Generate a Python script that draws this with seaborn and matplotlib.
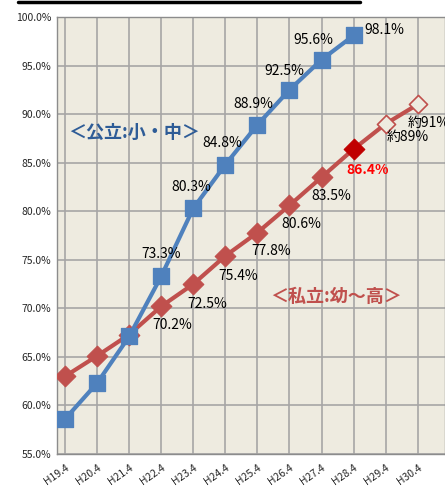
import pandas as pd
import numpy as np
import matplotlib.pyplot as plt
import seaborn as sns
from matplotlib.lines import Line2D
from matplotlib.ticker import FuncFormatter

# data
years = ["H19.4", "H20.4", "H21.4", "H22.4", "H23.4", "H24.4",
         "H25.4", "H26.4", "H27.4", "H28.4", "H29.4", "H30.4"]
public_rate = [58.6, 62.3, 67.1, 73.3, 80.3, 84.8, 88.9, 92.5, 95.6, 98.1]
private_rate = [63.0, 65.1, 67.3, 70.2, 72.5, 75.4, 77.8, 80.6, 83.5, 86.4, 89.0, 91.0]
public_labels = ["", "", "", "73.3%", "80.3%", "84.8%", "88.9%", "92.5%", "95.6%", "98.1%"]
private_labels = ["", "", "", "70.2%", "72.5%", "75.4%", "77.8%", "80.6%", "83.5%", "86.4%", "約89%", "約91%"]

sns.set_style("white")
plt.rcParams['font.family'] = ['Noto Sans CJK JP', 'DejaVu Sans']

BG = "#EEEBE0"
BLUE = "#4F81BD"
RED = "#C0504D"

pub = pd.DataFrame({"x": range(len(public_rate)), "rate": public_rate})
priv = pd.DataFrame({"x": range(len(private_rate)), "rate": private_rate})

fig = plt.figure(figsize=(4.45, 4.88), dpi=100)
ax = fig.add_axes([57 / 445, 1 - 454 / 488, 1 - 57 / 445, (454 - 17) / 488])
ax.set_facecolor(BG)

# private line (under the public one)
sns.lineplot(data=priv, x="x", y="rate", ax=ax, color=RED, linewidth=3.0, zorder=3)
sns.scatterplot(data=priv.iloc[:9], x="x", y="rate", ax=ax, marker="D", s=110,
                color=RED, edgecolor=RED, zorder=4)
sns.scatterplot(data=priv.iloc[9:10], x="x", y="rate", ax=ax, marker="D", s=110,
                color="#C00000", edgecolor="#C00000", zorder=4)
sns.scatterplot(data=priv.iloc[10:], x="x", y="rate", ax=ax, marker="D", s=85,
                color=BG, edgecolor=RED, linewidth=1.2, zorder=4)

# public line
sns.lineplot(data=pub, x="x", y="rate", ax=ax, color=BLUE, linewidth=3.0, zorder=5)
sns.scatterplot(data=pub, x="x", y="rate", ax=ax, marker="s", s=140,
                color=BLUE, edgecolor=BLUE, zorder=6)

# value labels (offsets in pixels)
pub_off = {3: (0, 22), 4: (-2, 21), 5: (-3, 22), 6: (-4, 21), 7: (-5, 19),
           8: (-8, 20), 9: (31, 5)}
for i, (v, t) in enumerate(zip(public_rate, public_labels)):
    if not t:
        continue
    ax.annotate(t, (i, v), xytext=pub_off[i], textcoords="offset pixels",
                ha="center", va="center", fontsize=10, color="black", zorder=7)

priv_off = {3: (11, -19), 4: (14, -20), 5: (13, -20), 6: (14, -18), 7: (12, -19),
            8: (10, -19), 9: (14, -21), 10: (1, -13), 11: (-10, -19)}
for i, (v, t) in enumerate(zip(private_rate, private_labels)):
    if not t:
        continue
    if i == 9:
        ax.annotate(t, (i, v), xytext=priv_off[i], textcoords="offset pixels", ha="center",
                    va="center", fontsize=10, color="#FF0000", fontweight="bold", zorder=7)
    else:
        ax.annotate(t, (i, v), xytext=priv_off[i], textcoords="offset pixels",
                    ha="left" if i >= 10 else "center", va="center", fontsize=10,
                    color="black", zorder=7, annotation_clip=False)

ax.text(0.03, 0.735, "＜公立:小・中＞", transform=ax.transAxes, fontsize=13,
        fontweight="bold", color="#2E5C97", va="center", ha="left")
ax.text(0.55, 0.36, "＜私立:幼～高＞", transform=ax.transAxes, fontsize=13,
        fontweight="bold", color=RED, va="center", ha="left")

ax.set_ylim(55, 100)
ax.set_yticks(np.arange(55, 100.1, 5))
ax.yaxis.set_major_formatter(FuncFormatter(lambda v, p: f"{v:.1f}%"))
ax.set_xlim(-0.25, 11.85)
ax.set_xticks(range(len(years)))
ax.set_xticklabels(years, rotation=35, ha="right", rotation_mode="anchor")
ax.tick_params(axis="both", labelsize=7.5, length=0, pad=4)
ax.tick_params(axis="x", pad=6)
ax.grid(True, color="#A6A6A6", linewidth=1.2)
ax.set_axisbelow(True)
ax.set_xlabel("")
ax.set_ylabel("")
for s in ax.spines.values():
    s.set_color("#8C8C8C")
    s.set_linewidth(1.0)

fig.add_artist(Line2D([18 / 445, 360 / 445], [1 - 1.5 / 488] * 2, color="black",
                      linewidth=2.5, transform=fig.transFigure))

fig.savefig("out.png", dpi=100)
